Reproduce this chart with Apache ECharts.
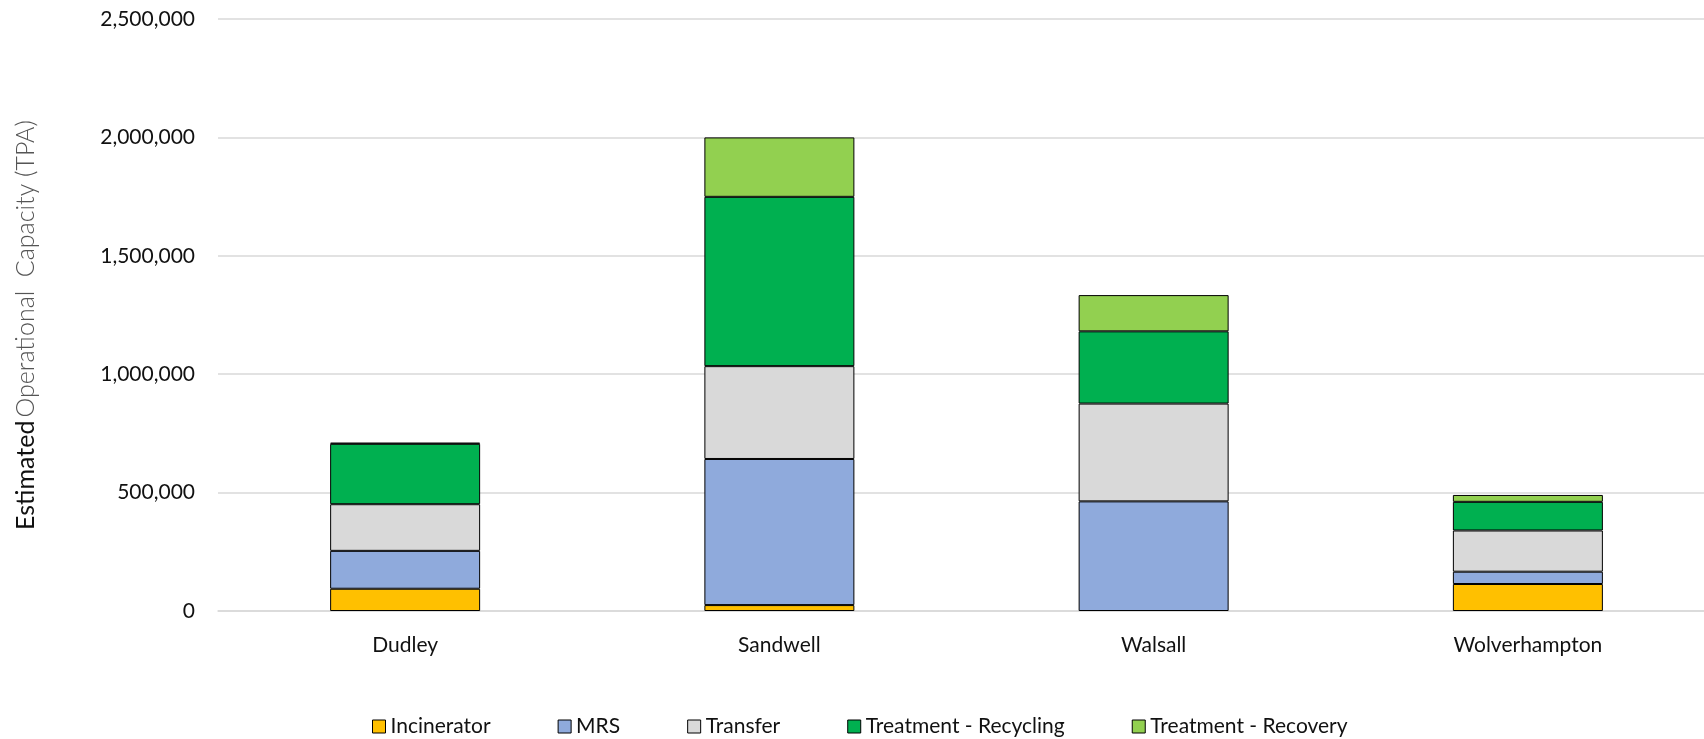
<!DOCTYPE html>
<html>
<head>
<meta charset="utf-8">
<script src="https://cdn.jsdelivr.net/npm/echarts@6/dist/echarts.min.js"></script>
<style>
html,body{margin:0;padding:0;background:#fff;overflow:hidden;}
#chart{width:1715px;height:739px;}
</style>
</head>
<body>
<div id="chart"></div>
<script>
const categories = ['Dudley', 'Sandwell', 'Walsall', 'Wolverhampton'];
const seriesNames = ['Incinerator', 'MRS', 'Transfer', 'Treatment - Recycling', 'Treatment - Recovery'];
const incinerator = [94000, 25000, 0, 114000];
const mrs = [160000, 617000, 463000, 52000];
const transfer = [197000, 392000, 413000, 174000];
const recycling = [255000, 715000, 305000, 121000];
const recovery = [5000, 251000, 153000, 29000];
const colors = ['#FFC000', '#8FAADC', '#D9D9D9', '#00B050', '#92D050'];
const yTicks = { min: 0, max: 2500000, interval: 500000 };

const allData = [incinerator, mrs, transfer, recycling, recovery];
const FONT = 'Lato';

const chart = echarts.init(document.getElementById('chart'), null, { renderer: 'canvas' });
chart.setOption({
  animation: false,
  backgroundColor: '#ffffff',
  color: colors,
  textStyle: { fontFamily: FONT },
  grid: { left: 218, right: 0, top: 19, bottom: 128, containLabel: false },
  legend: {
    data: seriesNames,
    left: 367,
    top: 711,
    itemWidth: 13,
    itemHeight: 13,
    itemGap: 67,
    icon: 'rect',
    textStyle: { fontFamily: FONT, fontSize: 21, color: '#111' },
    itemStyle: { borderColor: '#000', borderWidth: 1 }
  },
  xAxis: {
    type: 'category',
    data: categories,
    axisLine: { show: true, lineStyle: { color: '#d9d9d9', width: 1.5 } },
    axisTick: { show: false },
    axisLabel: { fontFamily: FONT, fontSize: 21, color: '#111', margin: 24 }
  },
  yAxis: {
    type: 'value',
    min: yTicks.min,
    max: yTicks.max,
    interval: yTicks.interval,
    axisLine: { show: false },
    axisTick: { show: false },
    splitLine: { lineStyle: { color: '#d9d9d9', width: 1.5 } },
    axisLabel: {
      fontFamily: FONT, fontSize: 21, color: '#111', margin: 23,
      formatter: v => v.toLocaleString('en-GB')
    },
    name: '{a|Estimated} {b|Operational  Capacity (TPA)}',
    nameLocation: 'middle',
    nameGap: 180,
    nameRotate: 90,
    nameTextStyle: {
      padding: [0, 20, 0, 0],
      rich: {
        a: { fontFamily: FONT, fontSize: 25, color: '#111' },
        b: { fontFamily: FONT, fontSize: 25, color: '#555', fontWeight: 300 }
      }
    }
  },
  series: seriesNames.map((name, i) => ({
    name: name,
    type: 'bar',
    stack: 'total',
    barWidth: 150,
    data: allData[i].map(v => (v === 0 ? null : v)),
    itemStyle: { color: colors[i], borderColor: '#000', borderWidth: 1 }
  }))
});
</script>
</body>
</html>
